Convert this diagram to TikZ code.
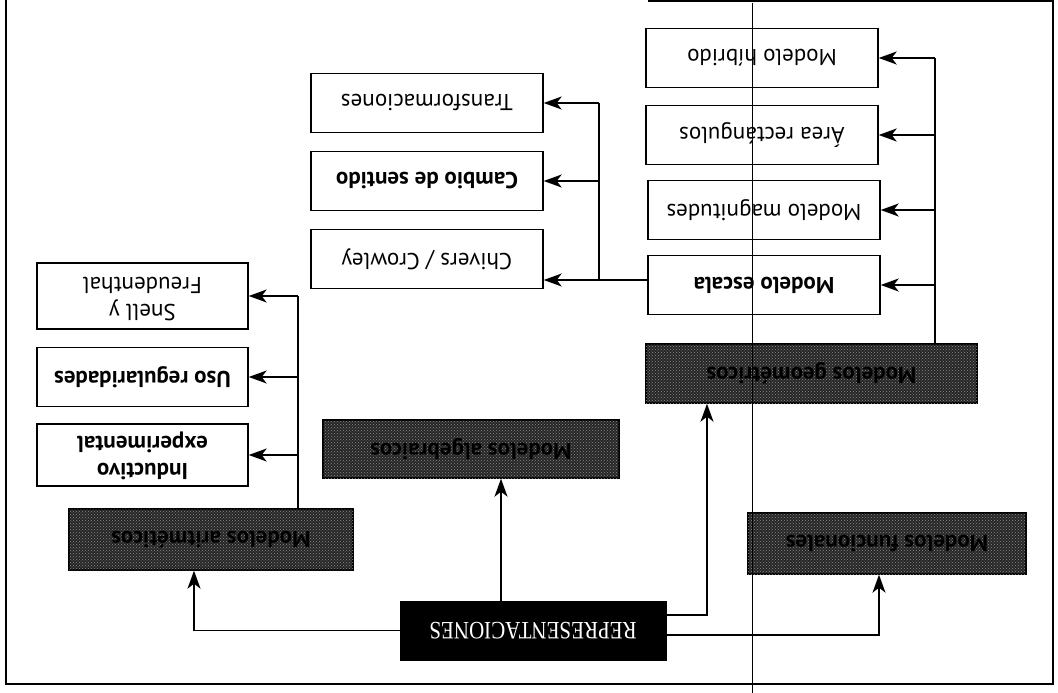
\documentclass[tikz,border=0pt]{standalone}
\usepackage{graphicx}
\usepackage{fontspec}
\setmainfont{PT Sans}
\newfontfamily\reprfont{Liberation Serif}
\usetikzlibrary{arrows.meta,patterns}
\newcommand\flipt[1]{\rotatebox{180}{#1}}
\begin{document}
\begin{tikzpicture}[x=1pt,y=-1pt,
  every node/.style={inner sep=0pt},
  wbox/.style={draw=black,line width=1.4pt,fill=white,minimum width=232pt,minimum height=59pt,font=\fontsize{23}{27}\selectfont},
  dbox/.style={draw=black,line width=1.4pt,fill=black!85,postaction={pattern=crosshatch dots,pattern color=black!45},font=\fontsize{23}{27}\selectfont\bfseries},
  arr/.style={line width=1.3pt,-{Stealth[length=18pt,width=13pt,inset=5pt]}},
  ln/.style={line width=1.3pt}]
\useasboundingbox (0,0) rectangle (1058,693);
\fill[white] (0,0) rectangle (1058,693);

% frame
\draw[line width=1.2pt] (648,1) -- (1053,1) -- (1053,684) -- (6,684) -- (6,0);

% root
\node[draw=black,fill=black,minimum width=266pt,minimum height=59pt,text=white,font=\reprfont\fontsize{25}{27}\selectfont] (repr) at (533,630.5) {\flipt{\scalebox{0.84}[1]{REPRESENTACIONES}}};

% dark boxes
\node[dbox,minimum width=284pt,minimum height=61pt] (arit) at (211,539.5) {\flipt{Modelos aritméticos}};
\node[dbox,minimum width=296pt,minimum height=58pt] (alg) at (471,449) {\flipt{Modelos algebraicos}};
\node[dbox,minimum width=331pt,minimum height=59pt] (geom) at (811.5,373.5) {\flipt{Modelos geométricos}};
\node[dbox,minimum width=278pt,minimum height=61pt] (func) at (887,543.5) {\flipt{Modelos funcionales}};

% white boxes, geometric branch
\node[wbox] (hibrido) at (762,58) {\flipt{Modelo híbrido}};
\node[wbox] (area) at (762,135) {\flipt{Área rectángulos}};
\node[wbox] (magn) at (764,210) {\flipt{Modelo magnitudes}};
\node[wbox] (escala) at (764,285) {\flipt{\bfseries Modelo escala}};

% white boxes, from escala
\node[wbox] (transf) at (427,103) {\flipt{Transformaciones}};
\node[wbox] (cambio) at (427,181) {\flipt{\bfseries Cambio de sentido}};
\node[wbox] (chivers) at (427,259) {\flipt{Chivers / Crowley}};

% white boxes, arithmetic branch
\node[wbox,minimum width=211pt,minimum height=66pt] (snell) at (142.5,296) {\flipt{\begin{tabular}{@{}c@{}}Snell y\\Freudenthal\end{tabular}}};
\node[wbox,minimum width=211pt,minimum height=59pt] (uso) at (142.5,377) {\flipt{\bfseries Uso regularidades}};
\node[wbox,minimum width=211pt,minimum height=62pt] (induct) at (142.5,455) {\flipt{\bfseries\begin{tabular}{@{}c@{}}Inductivo\\experimental\end{tabular}}};

% helper coordinates
\coordinate (ax) at (194,0);
\coordinate (mx) at (501,0);
\coordinate (gx) at (707,0);
\coordinate (fx) at (879,0);
\coordinate (aj) at (298,0);
\coordinate (gj) at (935,0);
\coordinate (ej) at (599,280);

% root connectors
\draw[arr] (repr.west) -| (arit.south -| ax);
\draw[arr] (repr.north -| mx) -- (alg.south -| mx);
\draw[arr] ([yshift=15.5pt]repr.east) -| (geom.south -| gx);
\draw[arr] ([yshift=-4.5pt]repr.east) -| (func.south -| fx);

% arithmetic branch
\draw[ln] (arit.north -| aj) -- (snell.east -| aj);
\draw[arr] (snell.east -| aj) -- (snell.east);
\draw[arr] (uso.east -| aj) -- (uso.east);
\draw[arr] (induct.east -| aj) -- (induct.east);

% geometric branch
\draw[ln] (geom.north -| gj) -- (hibrido.east -| gj);
\draw[arr] (hibrido.east -| gj) -- (hibrido.east);
\draw[arr] (area.east -| gj) -- (area.east);
\draw[arr] (magn.east -| gj) -- (magn.east);
\draw[arr] (escala.east -| gj) -- (escala.east);

% escala branch
\draw[arr] ([yshift=5pt]escala.west) -- (chivers.east |- ej);
\draw[ln] (ej) -- (transf.east -| ej);
\draw[arr] (transf.east -| ej) -- (transf.east);
\draw[arr] (cambio.east -| ej) -- (cambio.east);

% vertical divider
\draw[line width=0.9pt] (752,3) -- (752,693);
\end{tikzpicture}
\end{document}
